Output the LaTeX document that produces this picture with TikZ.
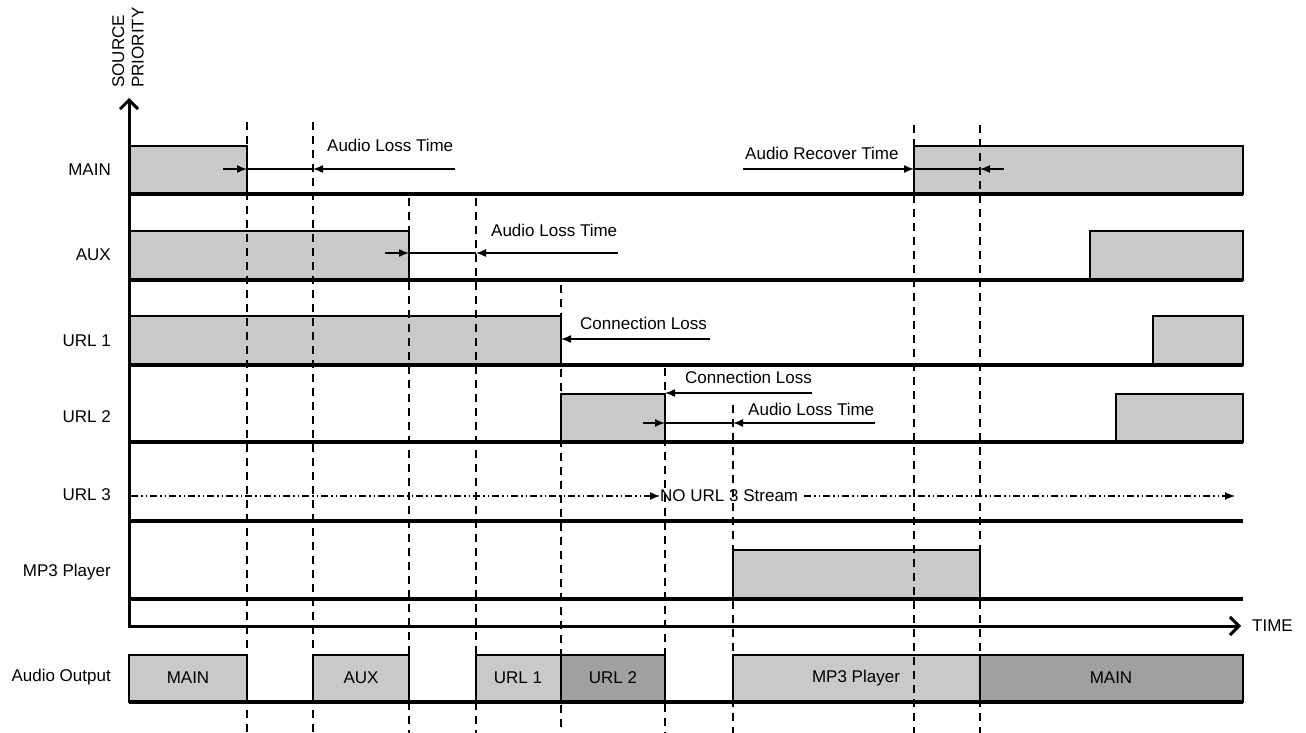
\documentclass[tikz,border=0pt]{standalone}
\usepackage{fontspec}
\setmainfont{Liberation Sans}
\usetikzlibrary{arrows.meta}
\definecolor{lightbox}{HTML}{C8C9CB}
\definecolor{darkbox}{HTML}{A0A0A0}
\tikzset{
  lbl/.style={font=\fontsize{17}{19.5}\selectfont, inner sep=0pt},
  rowbase/.style={line width=3.5pt},
  sigbox/.style={draw=black, line width=2pt, fill=lightbox},
  darkbx/.style={draw=black, line width=2pt, fill=darkbox},
  guide/.style={line width=1.6pt, dash pattern=on 8pt off 6pt},
  marker/.style={line width=1.4pt, -{Latex[length=10pt,width=8pt]}},
  span/.style={line width=1.4pt},
  dashdotdot/.style={line width=1.3pt, dash pattern=on 7pt off 3pt on 1.5pt off 3pt on 1.5pt off 3pt, -{Latex[length=10pt,width=8pt]}},
  axisline/.style={line width=3pt, -{Straight Barb[length=9pt,width=18pt,line width=3pt]}},
}
\begin{document}
\begin{tikzpicture}[x=1pt,y=-1pt]
\useasboundingbox (0,0) rectangle (1306,733);

% ---- signal boxes
\path[sigbox] (129,146) rectangle (247,194);
\path[sigbox] (914,146) rectangle (1243,194);
\path[sigbox] (129,231) rectangle (409,280);
\path[sigbox] (1090,231) rectangle (1243,280);
\path[sigbox] (129,316) rectangle (561,365);
\path[sigbox] (1153,316) rectangle (1243,365);
\path[sigbox] (561,394) rectangle (665,442);
\path[sigbox] (1116,394) rectangle (1243,442);
\path[sigbox] (733,550) rectangle (980,599);

% ---- audio output boxes
\path[sigbox] (129,655) rectangle (247,702);
\path[sigbox] (313,655) rectangle (409,702);
\path[sigbox] (476,655) rectangle (561,702);
\path[darkbx] (561,655) rectangle (665,702);
\path[sigbox] (733,655) rectangle (980,702);
\path[darkbx] (980,655) rectangle (1243,702);
\node[lbl] (oMain) at (188,678) {MAIN};
\node[lbl] (oAux) at (361,678) {AUX};
\node[lbl] (oU1) at (518,678) {URL 1};
\node[lbl] (oU2) at (613,678) {URL 2};
\node[lbl] (oMp3) at (856,678) {MP3 Player};
\node[lbl] (oMain2) at (1111,678) {MAIN};

% ---- baselines
\foreach \yy in {194,280,365,442,521,599,702}
  \draw[rowbase] (129,\yy) -- (1243,\yy);

% ---- dashed guides
\draw[guide] (247,122) -- (247,733);
\draw[guide] (313,122) -- (313,733);
\draw[guide] (409,198) -- (409,733);
\draw[guide] (476,198) -- (476,733);
\draw[guide] (561,285) -- (561,733);
\draw[guide] (665,368) -- (665,733);
\draw[guide] (733,405) -- (733,733);
\draw[guide] (914,125) -- (914,733);
\draw[guide] (980,125) -- (980,733);

% ---- axes
\draw[axisline] (129,628) -- (129,98);
\draw[axisline] (127.5,626) -- (1241,626);
\node[lbl, anchor=west] (time) at (1252,626) {TIME};
\node[lbl, rotate=90, anchor=west, align=left] (sp) at (128,88) {SOURCE\\PRIORITY};

% ---- row labels
\node[lbl, anchor=east] (lMain) at (111,170) {MAIN};
\node[lbl, anchor=east] (lAux) at (111,255) {AUX};
\node[lbl, anchor=east] (lU1) at (111,341) {URL 1};
\node[lbl, anchor=east] (lU2) at (111,417) {URL 2};
\node[lbl, anchor=east] (lU3) at (111,495) {URL 3};
\node[lbl, anchor=east] (lMp3) at (111,572) {MP3 Player};
\node[lbl, anchor=east] (lOut) at (111,677) {Audio Output};

% ---- MAIN row annotations
\node[lbl, anchor=west] (alt1) at (327,145) {Audio Loss Time};
\draw[marker] (223,169) -- (247,169);
\draw[span] (247,169) -- (313,169);
\draw[marker] (455,169) -- (313,169);

\node[lbl, anchor=west] (art) at (745,153) {Audio Recover Time};
\draw[marker] (743,169) -- (914,169);
\draw[span] (914,169) -- (980,169);
\draw[marker] (1004,169) -- (980,169);

% ---- AUX row annotations
\node[lbl, anchor=west] (alt2) at (491,230) {Audio Loss Time};
\draw[marker] (385,253) -- (409,253);
\draw[span] (409,253) -- (476,253);
\draw[marker] (618,253) -- (476,253);

% ---- URL 1 annotations
\node[lbl, anchor=west] (cl1) at (580,323) {Connection Loss};
\draw[marker] (710,339) -- (561,339);

% ---- URL 2 annotations
\node[lbl, anchor=west] (cl2) at (685,377) {Connection Loss};
\draw[marker] (812,393) -- (665,393);
\node[lbl, anchor=west] (alt3) at (748,409) {Audio Loss Time};
\draw[marker] (643,423) -- (665,423);
\draw[span] (665,423) -- (733,423);
\draw[marker] (875,423) -- (733,423);

% ---- URL 3
\node[lbl, anchor=west] (nourl) at (660,496) {NO URL 3 Stream};
\draw[dashdotdot] (131,496) -- (nourl.west);
\draw[dashdotdot] (nourl.east) ++(6,0) -- (1235,496);
\end{tikzpicture}
\end{document}
